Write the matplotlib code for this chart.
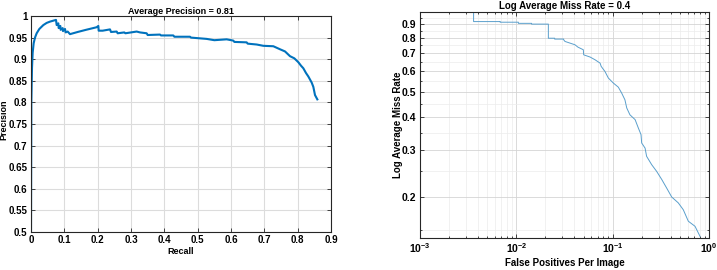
#! /usr/bin/env python3

import matplotlib
matplotlib.use("Agg")
import matplotlib.pyplot as plt
from matplotlib.ticker import FixedLocator, NullFormatter, LogLocator
import numpy as np

# precision / recall curve (left)
recall = [0.0, 0.001, 0.003, 0.005, 0.008, 0.012, 0.017, 0.025, 0.037, 0.047,
          0.057, 0.066, 0.075, 0.077, 0.082, 0.083, 0.088, 0.089, 0.095, 0.096,
          0.102, 0.104, 0.110, 0.117, 0.14, 0.165, 0.197, 0.202, 0.203, 0.215,
          0.237, 0.24, 0.257, 0.26, 0.28, 0.283, 0.317, 0.327, 0.347, 0.35,
          0.387, 0.39, 0.427, 0.43, 0.477, 0.48, 0.527, 0.55, 0.587, 0.607,
          0.61, 0.647, 0.65, 0.677, 0.697, 0.727, 0.747, 0.762, 0.777, 0.79,
          0.802, 0.81, 0.817, 0.825, 0.832, 0.842, 0.847, 0.852, 0.859]
precision = [0.5, 0.80, 0.88, 0.915, 0.937, 0.95, 0.96, 0.970, 0.979, 0.984,
             0.987, 0.989, 0.991, 0.979, 0.983, 0.972, 0.977, 0.968, 0.972, 0.965,
             0.970, 0.962, 0.964, 0.958, 0.963, 0.968, 0.974, 0.977, 0.966, 0.966,
             0.969, 0.963, 0.964, 0.960, 0.962, 0.960, 0.964, 0.962, 0.960, 0.956,
             0.957, 0.955, 0.955, 0.952, 0.952, 0.950, 0.947, 0.944, 0.946, 0.943,
             0.940, 0.939, 0.936, 0.934, 0.931, 0.930, 0.923, 0.918, 0.907, 0.902,
             0.893, 0.885, 0.879, 0.868, 0.860, 0.846, 0.836, 0.817, 0.807]

# miss rate vs false positives per image (right)
fppi = [0.0036, 0.0036, 0.0068, 0.0068, 0.0105, 0.0105, 0.0144, 0.0144, 0.0215,
        0.0215, 0.025, 0.025, 0.031, 0.031, 0.032, 0.0406, 0.0435, 0.0496,
        0.050, 0.0582, 0.0656, 0.074, 0.076, 0.0832, 0.0902, 0.1016, 0.1145,
        0.124, 0.134, 0.140, 0.151, 0.171, 0.185, 0.197, 0.200, 0.217, 0.225,
        0.254, 0.286, 0.323, 0.364, 0.410, 0.480, 0.541, 0.610, 0.716, 0.807]
miss_rate = [1.0, 0.92, 0.92, 0.915, 0.915, 0.906, 0.906, 0.900, 0.900,
             0.796, 0.796, 0.790, 0.790, 0.785, 0.774, 0.752, 0.737, 0.720,
             0.689, 0.676, 0.660, 0.641, 0.623, 0.596, 0.563, 0.539, 0.520,
             0.494, 0.466, 0.434, 0.409, 0.392, 0.364, 0.344, 0.320, 0.306,
             0.285, 0.265, 0.250, 0.233, 0.216, 0.200, 0.190, 0.179, 0.162,
             0.155, 0.142]

ap_title = "Average Precision = 0.81"
lamr_title = "Log Average Miss Rate = 0.4"

plt.rcParams['font.family'] = ['Liberation Sans', 'DejaVu Sans']
plt.rcParams['font.weight'] = 'bold'
plt.rcParams['font.size'] = 7

axcol = '#262626'
blue = '#0072BD'

fig = plt.figure(figsize=(7.17, 2.70), dpi=100)

def style(ax):
    for s in ax.spines.values():
        s.set_color(axcol)
        s.set_linewidth(0.8)
    ax.tick_params(which='both', direction='in', top=True, right=True,
                   colors=axcol, labelcolor='black', width=0.6, pad=2.5)
    ax.tick_params(which='major', length=3)
    ax.tick_params(which='minor', length=1.5)

# left: PR curve
ax1 = fig.add_axes([31/717, 1-232/270, 300/717, 216/270])
ax1.plot(recall, precision, color=blue, lw=1.5)
ax1.set_xlim(0, 0.9)
ax1.set_ylim(0.5, 1.0)
ax1.set_xticks(np.arange(0, 0.91, 0.1))
ax1.set_yticks(np.arange(0.5, 1.001, 0.05))
ax1.set_xticklabels(['0'] + ['%g' % v for v in np.round(np.arange(0.1, 0.91, 0.1), 1)])
ax1.set_yticklabels(['%g' % v for v in np.round(np.arange(0.5, 1.001, 0.05), 2)])
ax1.grid(True, color='#dcdcdc', lw=0.8)
ax1.set_axisbelow(True)
style(ax1)
ax1.set_title(ap_title, fontsize=6.5, fontweight='bold', pad=1.5)
ax1.set_xlabel("Recall", fontsize=6.5, fontweight='bold')
ax1.xaxis.set_label_coords(0.5, -15/216)
ax1.set_ylabel("Precision", fontsize=6.5, fontweight='bold')
ax1.yaxis.set_label_coords(-23/300, 0.52)

# right: miss rate curve
ax2 = fig.add_axes([420/717, 1-238/270, 289/717, 226/270])
ax2.plot(fppi, miss_rate, color='#5a9fcc', lw=0.7)
ax2.set_xscale('log')
ax2.set_yscale('log')
ax2.set_xlim(1e-3, 1)
ax2.set_ylim(0.14, 1.0)
ax2.yaxis.set_major_locator(FixedLocator([0.2, 0.3, 0.4, 0.5, 0.6, 0.7, 0.8, 0.9]))
ax2.yaxis.set_minor_locator(FixedLocator(np.arange(0.15, 1.0, 0.05)))
ax2.set_yticklabels(['0.2', '0.3', '0.4', '0.5', '0.6', '0.7', '0.8', '0.9'])
ax2.yaxis.set_minor_formatter(NullFormatter())
ax2.xaxis.set_major_locator(LogLocator(base=10))
ax2.xaxis.set_minor_locator(LogLocator(base=10, subs=np.arange(2, 10)))
ax2.xaxis.set_minor_formatter(NullFormatter())
ax2.grid(True, which='major', color='#d4d4d4', lw=0.6)
ax2.grid(True, which='minor', color='#ececec', lw=0.5)
ax2.set_axisbelow(True)
style(ax2)
ax2.tick_params(labelsize=7.5)
ax2.set_title(lamr_title, fontsize=7, fontweight='bold', pad=2)
ax2.set_xlabel("False Positives Per Image", fontsize=7, fontweight='bold')
ax2.xaxis.set_label_coords(0.5, -20/226)
ax2.set_ylabel("Log Average Miss Rate", fontsize=7, fontweight='bold')
ax2.yaxis.set_label_coords(-17/289, 0.5)

fig.savefig('out.png', dpi=100)
